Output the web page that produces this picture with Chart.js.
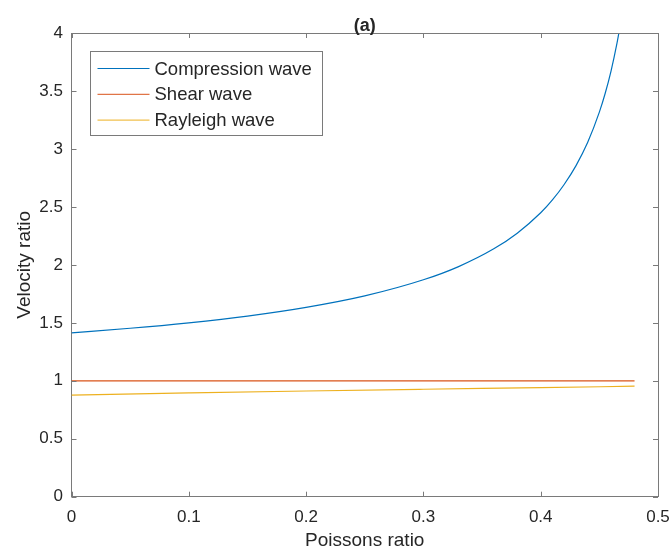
<!DOCTYPE html>
<html>
<head>
<meta charset="utf-8">
<title>(a) Velocity ratio</title>
<script src="https://cdn.jsdelivr.net/npm/chart.js@4.4.0/dist/chart.umd.min.js"></script>
<style>
  html, body { margin: 0; padding: 0; background: #fff; }
  #wrap { width: 671px; height: 553px; position: relative; }
</style>
</head>
<body>
<div id="wrap"><canvas id="waveChart" width="671" height="553"></canvas></div>
<script>
// values
var poissonComp = [0, 0.05, 0.1, 0.15, 0.2, 0.25, 0.3, 0.33, 0.36, 0.38, 0.4, 0.41, 0.42, 0.43, 0.44, 0.45, 0.455, 0.46, 0.465, 0.468];
var velComp = [1.414, 1.453, 1.5, 1.558, 1.633, 1.732, 1.871, 1.985, 2.138, 2.273, 2.449, 2.56, 2.693, 2.854, 3.055, 3.317, 3.48, 3.674, 3.91, 4.077];

var poissonShear = [0, 0.48];
var velShear = [1, 1];

var poissonRay = [0, 0.1, 0.2, 0.3, 0.4, 0.48];
var velRay = [0.877, 0.895, 0.912, 0.927, 0.941, 0.953];

var xTicks = [0, 0.1, 0.2, 0.3, 0.4, 0.5];
var yTicks = [0, 0.5, 1, 1.5, 2, 2.5, 3, 3.5, 4];

var labels = ['Compression wave', 'Shear wave', 'Rayleigh wave'];
var colors = ['#0072BD', '#D95319', '#EDB120'];

var FONT = '"Liberation Sans", Arial, Helvetica, sans-serif';
var TEXT = '#262626';
var AXIS = '#7a7a7a';

function toPoints(xs, ys) {
    var pts = [];
    for (var i = 0; i < xs.length; i++) pts.push({ x: xs[i], y: ys[i] });
    return pts;
}

// box on all sides, inward ticks, title and legend like matlab
var matlabFrame = {
    id: 'matlabFrame',
    afterDraw: function (chart) {
        var ctx = chart.ctx;
        var a = chart.chartArea;
        var sx = chart.scales.x, sy = chart.scales.y;
        var tl = 5;
        ctx.save();
        ctx.strokeStyle = AXIS;
        ctx.lineWidth = 1;
        ctx.beginPath();
        ctx.moveTo(a.left, a.top + 0.5);
        ctx.lineTo(a.right + 0.5, a.top + 0.5);
        ctx.lineTo(a.right + 0.5, a.bottom);
        ctx.stroke();

        ctx.beginPath();
        xTicks.forEach(function (v) {
            var px = Math.round(sx.getPixelForValue(v)) + 0.5;
            ctx.moveTo(px, a.bottom); ctx.lineTo(px, a.bottom - tl);
            ctx.moveTo(px, a.top); ctx.lineTo(px, a.top + tl);
        });
        yTicks.forEach(function (v) {
            var py = Math.round(sy.getPixelForValue(v)) + 0.5;
            ctx.moveTo(a.left, py); ctx.lineTo(a.left + tl, py);
            ctx.moveTo(a.right, py); ctx.lineTo(a.right - tl, py);
        });
        ctx.stroke();

        // title
        ctx.fillStyle = TEXT;
        ctx.font = 'bold 18px ' + FONT;
        ctx.textAlign = 'center';
        ctx.textBaseline = 'middle';
        ctx.fillText('(a)', (a.left + a.right) / 2, a.top - 7);

        // legend
        var bx = Math.round(a.left + 18) + 0.5, by = Math.round(a.top + 18) + 0.5;
        var bw = 232, bh = 84;
        ctx.fillStyle = '#fff';
        ctx.fillRect(bx, by, bw, bh);
        ctx.strokeStyle = AXIS;
        ctx.strokeRect(bx, by, bw, bh);
        ctx.font = '18.5px ' + FONT;
        ctx.textAlign = 'left';
        chart.data.datasets.forEach(function (ds, i) {
            var ry = by + 17 + i * 25.8;
            ctx.strokeStyle = ds.borderColor;
            ctx.beginPath();
            ctx.moveTo(bx + 7, ry); ctx.lineTo(bx + 59, ry);
            ctx.stroke();
            ctx.fillStyle = TEXT;
            ctx.fillText(ds.label, bx + 64, ry + 1);
        });
        ctx.restore();
    }
};

var ctx = document.getElementById('waveChart').getContext('2d');
new Chart(ctx, {
    type: 'scatter',
    data: {
        datasets: [
            { label: labels[0], data: toPoints(poissonComp, velComp), borderColor: colors[0], backgroundColor: colors[0] },
            { label: labels[1], data: toPoints(poissonShear, velShear), borderColor: colors[1], backgroundColor: colors[1] },
            { label: labels[2], data: toPoints(poissonRay, velRay), borderColor: colors[2], backgroundColor: colors[2] }
        ]
    },
    options: {
        responsive: false,
        animation: false,
        showLine: true,
        layout: { padding: { left: 0, right: 13, top: 33, bottom: 0 } },
        elements: {
            point: { radius: 0, hoverRadius: 0 },
            line: { borderWidth: 1.2, cubicInterpolationMode: 'monotone' }
        },
        plugins: {
            legend: { display: false },
            tooltip: { enabled: false }
        },
        scales: {
            x: {
                type: 'linear',
                min: 0, max: 0.5,
                afterBuildTicks: function (s) { s.ticks = xTicks.map(function (v) { return { value: v }; }); },
                afterFit: function (s) { s.height = 56.3; s.paddingLeft = 0; s.paddingRight = 0; },
                ticks: {
                    color: TEXT, padding: 10, maxRotation: 0,
                    font: { family: FONT, size: 17 },
                    callback: function (v) { return String(v); }
                },
                grid: { display: false, drawTicks: false },
                border: { display: true, color: AXIS, width: 1 },
                title: {
                    display: true, text: 'Poissons ratio', color: TEXT,
                    font: { family: FONT, size: 19 }, padding: { top: 1, bottom: 1 }
                }
            },
            y: {
                type: 'linear',
                min: 0, max: 4,
                afterBuildTicks: function (s) { s.ticks = yTicks.map(function (v) { return { value: v }; }); },
                afterFit: function (s) { s.width = 71.5; s.paddingTop = 0; s.paddingBottom = 0; },
                ticks: {
                    color: TEXT, padding: 8.5,
                    font: { family: FONT, size: 17 },
                    callback: function (v) { return String(v); }
                },
                grid: { display: false, drawTicks: false },
                border: { display: true, color: AXIS, width: 1 },
                title: {
                    display: true, text: 'Velocity ratio', color: TEXT,
                    font: { family: FONT, size: 19 }, padding: { top: 13.5, bottom: 13.5 }
                }
            }
        }
    },
    plugins: [matlabFrame]
});
</script>
</body>
</html>
